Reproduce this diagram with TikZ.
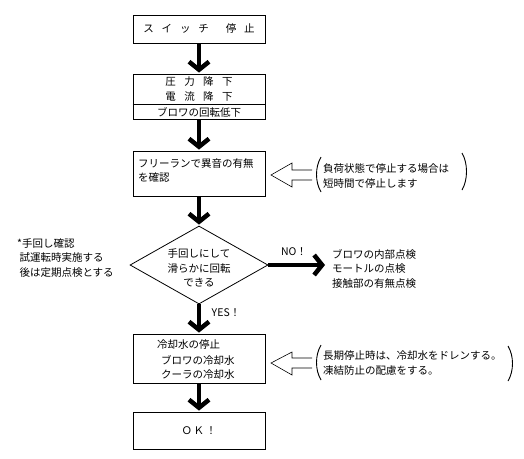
\documentclass[tikz,border=0pt]{standalone}
\usepackage{fontspec}
\setmainfont{Noto Sans CJK JP}
\usetikzlibrary{arrows.meta,shapes.geometric}
\tikzset{
  box/.style={draw, line width=0.8pt, minimum width=132pt, inner sep=0pt},
  bigarrow/.style={line width=4.5pt, -{Straight Barb[length=8pt,width=20pt,line width=4.5pt]}, shorten >=1pt},
  txt/.style={inner sep=0pt, align=left, anchor=west},
  hollow/.style={line width=0.6pt},
  paren/.style={line width=0.9pt},
}
\begin{document}
\begin{tikzpicture}[x=1pt,y=-1pt,font=\fontsize{10.5}{14.5}\selectfont]
\useasboundingbox (0,0) rectangle (524,458);
% boxes
\node[box, minimum height=28pt] (b1) at (199,29) {ス\hspace{0.75em}イ\hspace{0.75em}ッ\hspace{0.75em}チ\hspace{1.6em}停\hspace{0.75em}止};
\node[box, minimum height=45pt] (b2) at (199,96.5) {};
\draw[line width=0.8pt] (b2.west |- 0,104) -- (b2.east |- 0,104);
\node[inner sep=0pt] (b2a) at (199,82) {圧\hspace{0.8em}力\hspace{0.8em}降\hspace{0.8em}下};
\node[inner sep=0pt] (b2b) at (199,97) {電\hspace{0.8em}流\hspace{0.8em}降\hspace{0.8em}下};
\node[inner sep=0pt] (b2c) at (199,112) {ブロワの回転低下};
\node[box, minimum height=45pt] (b3) at (199,173.5) {};
\node[txt] (b3t) at (138,170.5) {フリーランで異音の有無\\を確認};
\node[draw, line width=0.8pt, diamond, aspect=1.77, minimum width=138pt, minimum height=78pt, inner sep=0pt] (d) at (199,265) {};
\node[inner sep=0pt, align=center] (dt) at (199,268) {手回しにして\\滑らかに回転\\できる};
\node[box, minimum height=49pt] (b5) at (199,358.5) {};
\node[txt] (b5a) at (157,345) {冷却水の停止};
\node[txt] (b5b) at (161,360) {ブロワの冷却水};
\node[txt] (b5c) at (161,374.5) {クーラの冷却水};
\node[box, minimum height=37pt] (b6) at (199,430.5) {Ｏ\,Ｋ\,！};
% big arrows
\draw[bigarrow] (b1.south) -- (b2.north);
\draw[bigarrow] (b2.south) -- (b3.north);
\draw[bigarrow] (b3.south) -- (d.north);
\draw[bigarrow] (d.south) -- (b5.north);
\draw[bigarrow] (b5.south) -- (b6.north);
\coordinate (noend) at (326,265);
\draw[bigarrow] (d.east) -- (noend);
\node[inner sep=0pt] (no) at (294,252) {NO！};
\node[inner sep=0pt] (yes) at (226,313) {YES！};
% right texts
\node[txt] (r1) at (332,268.5) {ブロワの内部点検\\モートルの点検\\接触部の有無点検};
\node[txt] (l1) at (17,258) {*手回し確認\\\ 試運転時実施する\\\ 後は定期点検とする};
% hollow arrows
\draw[hollow] (312,170) -- (292,170) -- (292,163) -- (271,175) -- (292,187) -- (292,180) -- (312,180);
\draw[paren] (321,157) .. controls (315,167) and (315,182) .. (321,192);
\node[txt] (n1) at (323,176) {負荷状態で停止する場合は\\短時間で停止します};
\draw[paren] (462,153) .. controls (468,163) and (468,180) .. (462,190);
\draw[hollow] (312,358) -- (292,358) -- (292,352) -- (271,363) -- (292,375) -- (292,368) -- (312,368);
\draw[paren] (321,345) .. controls (315,355) and (315,370) .. (321,380);
\node[txt] (n2) at (323,363) {長期停止時は、冷却水をドレンする。\\凍結防止の配慮をする。};
\draw[paren] (508,346) .. controls (514,356) and (514,371) .. (508,381);
\end{tikzpicture}
\end{document}
